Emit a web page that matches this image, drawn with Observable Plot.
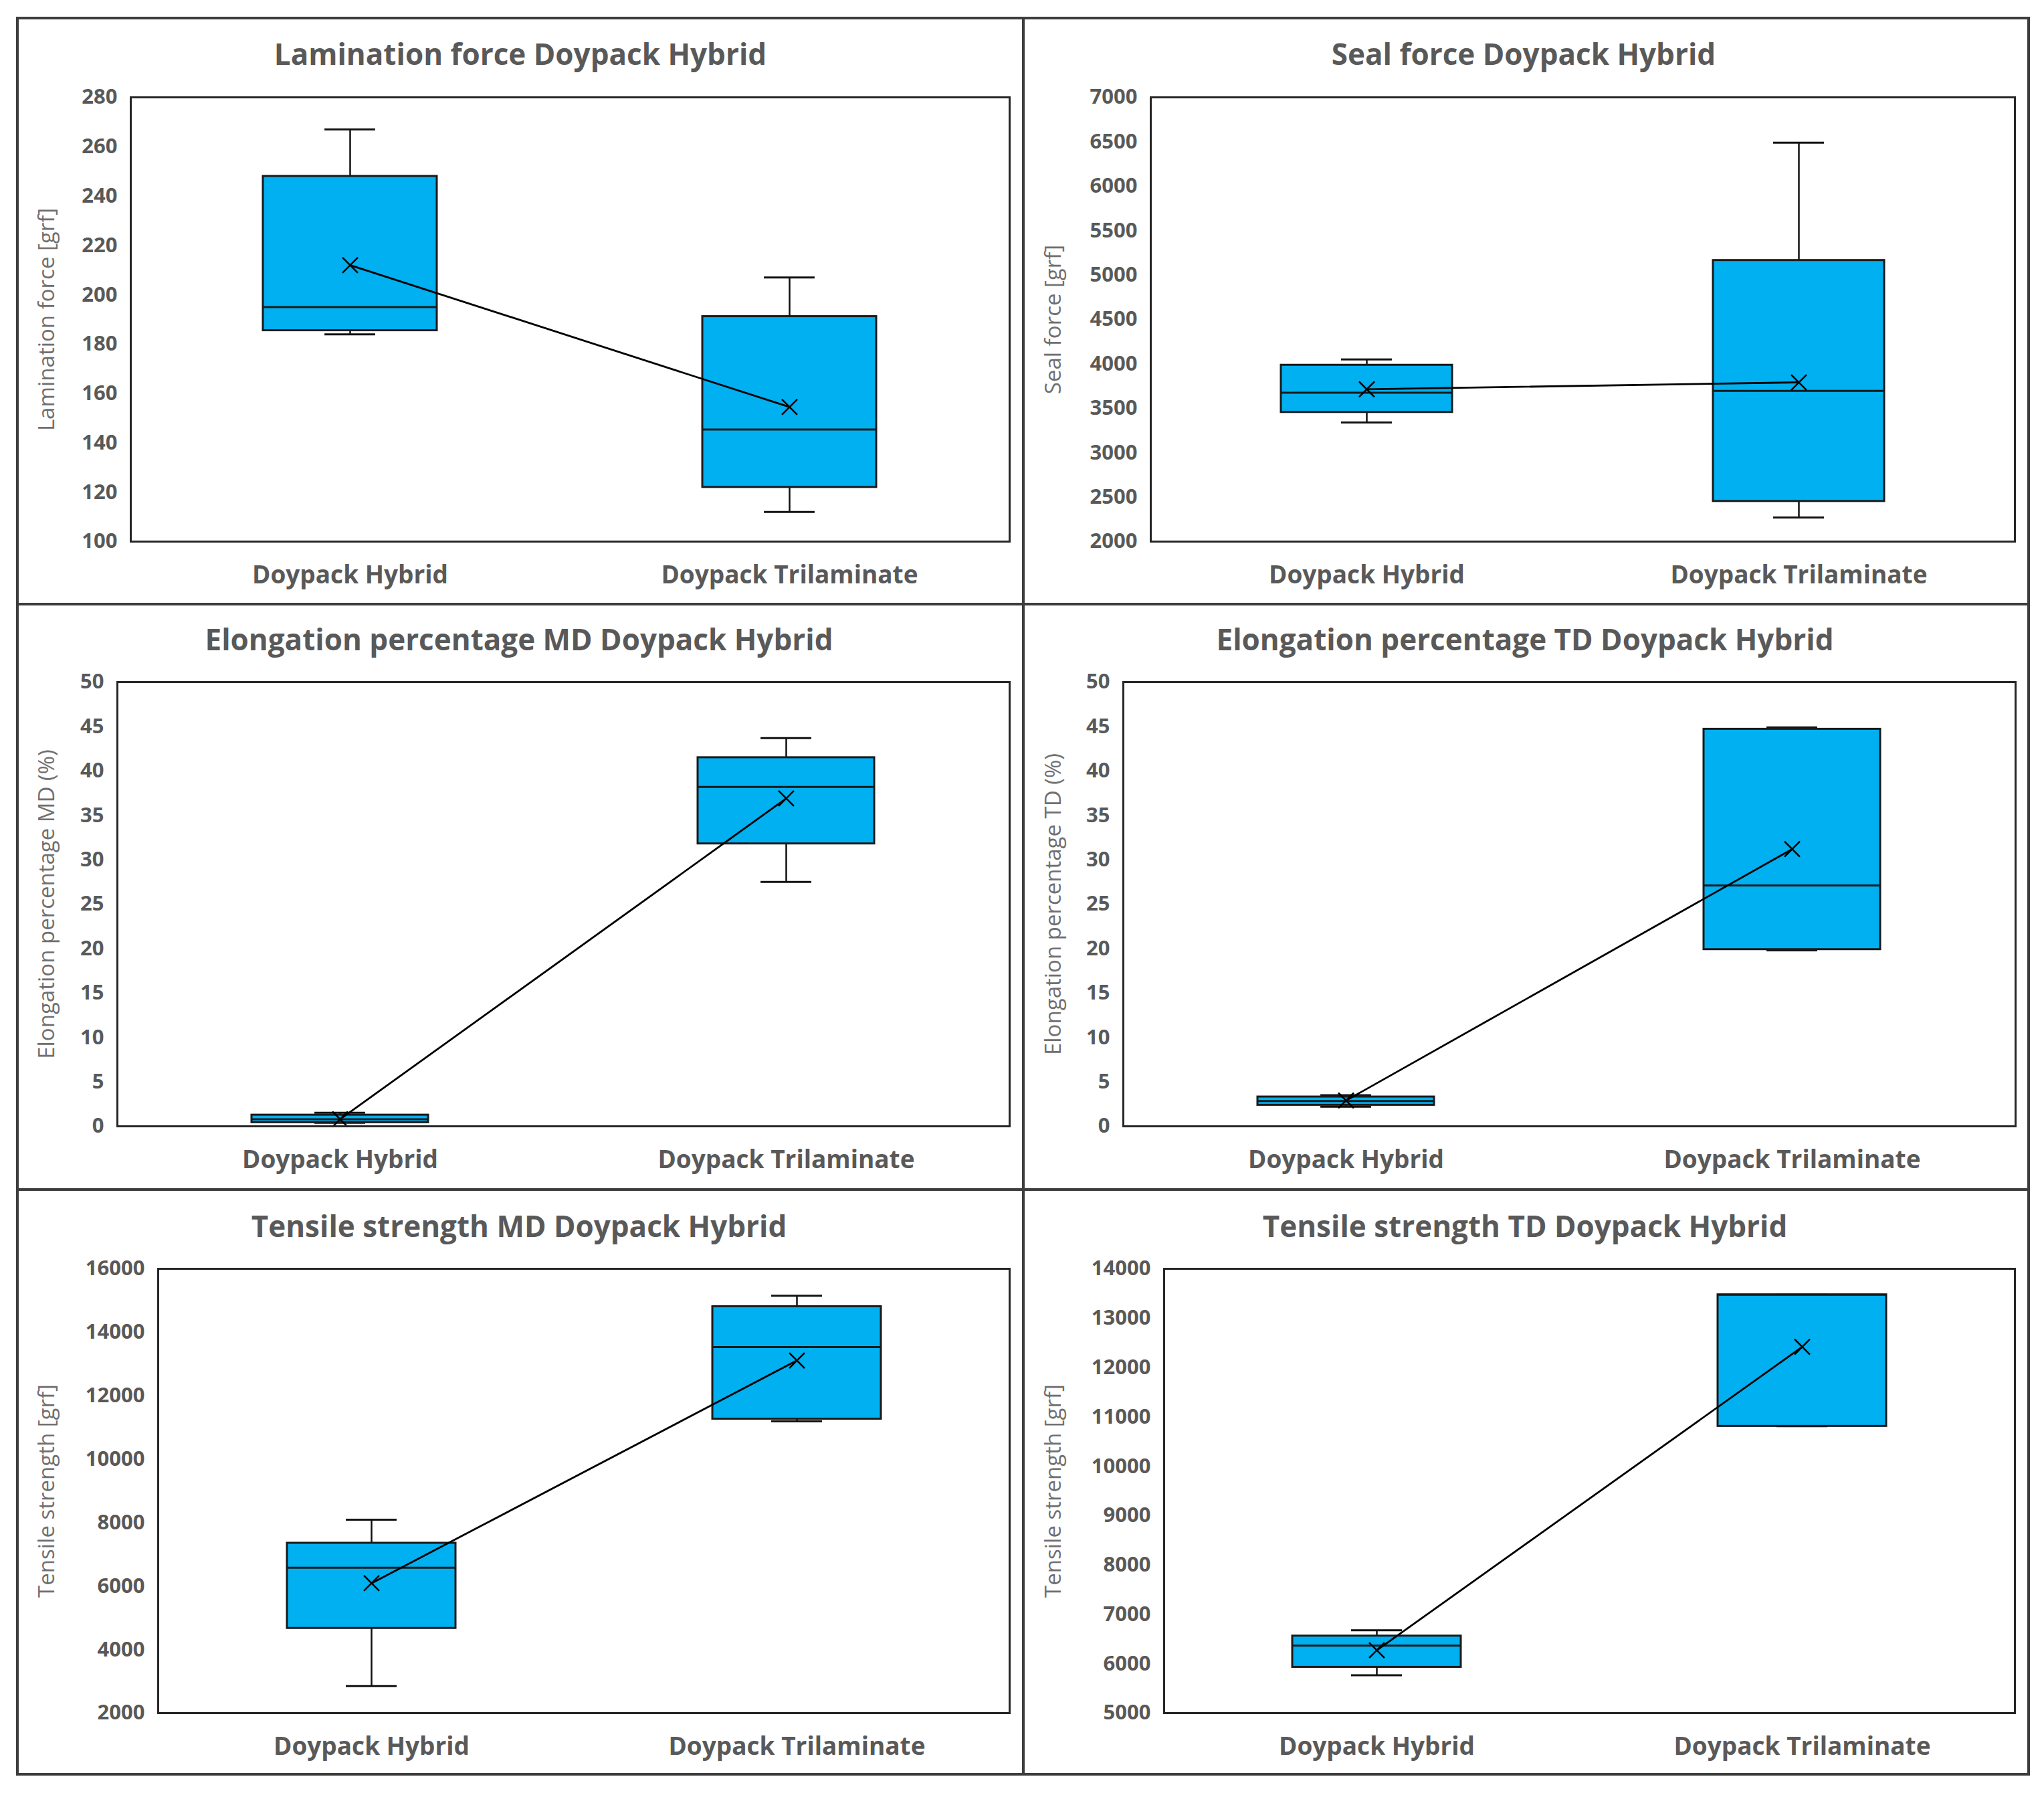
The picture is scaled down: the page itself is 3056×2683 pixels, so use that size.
<!DOCTYPE html>
<html><head><meta charset="utf-8">
<script src="https://cdn.jsdelivr.net/npm/d3@7"></script>
<script src="https://cdn.jsdelivr.net/npm/@observablehq/plot@0.6"></script>
<style>
html,body{margin:0;padding:0;background:#fff;}
#page{position:relative;width:3056px;height:2683px;background:#fff;overflow:hidden;font-family:"Open Sans",sans-serif;}
.outer{position:absolute;left:24px;top:25px;width:3011px;height:2629px;border:4px solid #3d3d3d;box-sizing:border-box;}
.vline{position:absolute;left:1528px;top:25px;width:4px;height:2629px;background:#3d3d3d;}
.hline{position:absolute;left:24px;width:3011px;height:4px;background:#3d3d3d;}
.title{position:absolute;transform:translate(-50%,-50%);white-space:nowrap;font-size:44px;font-weight:700;color:#595959;}
.panel{position:absolute;}
</style></head>
<body><div id="page">
<div class="outer"></div>
<div class="vline"></div>
<div class="hline" style="top:901px"></div>
<div class="hline" style="top:1776px"></div>
</div>
<script>
// ---------- data ----------
const categories = ["Doypack Hybrid", "Doypack Trilaminate"];
const titles = [
  "Lamination force Doypack Hybrid",
  "Seal force Doypack Hybrid",
  "Elongation percentage MD Doypack Hybrid",
  "Elongation percentage TD Doypack Hybrid",
  "Tensile strength MD Doypack Hybrid",
  "Tensile strength TD Doypack Hybrid"
];
const yLabels = [
  "Lamination force [grf]",
  "Seal force [grf]",
  "Elongation percentage MD (%)",
  "Elongation percentage TD (%)",
  "Tensile strength [grf]",
  "Tensile strength [grf]"
];
const laminationTicks = [100, 120, 140, 160, 180, 200, 220, 240, 260, 280];
const sealTicks = [2000, 2500, 3000, 3500, 4000, 4500, 5000, 5500, 6000, 6500, 7000];
const elongMDTicks = [0, 5, 10, 15, 20, 25, 30, 35, 40, 45, 50];
const elongTDTicks = [0, 5, 10, 15, 20, 25, 30, 35, 40, 45, 50];
const tensileMDTicks = [2000, 4000, 6000, 8000, 10000, 12000, 14000, 16000];
const tensileTDTicks = [5000, 6000, 7000, 8000, 9000, 10000, 11000, 12000, 13000, 14000];

// rows: [category, lower whisker, Q1, median, Q3, upper whisker, mean]
const laminationStats = [
  ["Doypack Hybrid", 184, 185.5, 195, 248, 267, 212],
  ["Doypack Trilaminate", 112, 122, 145.4, 191.2, 207, 154.5]
];
const sealStats = [
  ["Doypack Hybrid", 3340, 3455, 3675, 3986, 4050, 3714],
  ["Doypack Trilaminate", 2272, 2453, 3697, 5165, 6490, 3792]
];
const elongMDStats = [
  ["Doypack Hybrid", 0.4, 0.42, 0.8, 1.27, 1.53, 0.8],
  ["Doypack Trilaminate", 27.5, 31.8, 38.2, 41.5, 43.7, 36.9]
];
const elongTDStats = [
  ["Doypack Hybrid", 2.21, 2.38, 2.85, 3.31, 3.51, 2.9],
  ["Doypack Trilaminate", 19.8, 19.9, 27.1, 44.7, 44.9, 31.2]
];
const tensileMDStats = [
  ["Doypack Hybrid", 2850, 4672, 6578, 7355, 8096, 6092],
  ["Doypack Trilaminate", 11192, 11265, 13535, 14810, 15150, 13110]
];
const tensileTDStats = [
  ["Doypack Hybrid", 5765, 5929, 6366, 6561, 6678, 6272],
  ["Doypack Trilaminate", 10810, 10810, 13475, 13475, 13475, 12418]
];

// ---------- layout ----------
const panels = [
  {stats: laminationStats, ticks: laminationTicks, L:195, R:1509, T:145, B:809, cell:26, tx:778, ty:80, lx:70},
  {stats: sealStats, ticks: sealTicks, L:1720, R:3012, T:145, B:809, cell:1530, tx:2278, ty:80, lx:1575},
  {stats: elongMDStats, ticks: elongMDTicks, L:175, R:1509, T:1019, B:1683, cell:26, tx:776, ty:955, lx:70},
  {stats: elongTDStats, ticks: elongTDTicks, L:1679, R:3013, T:1019, B:1683, cell:1530, tx:2280, ty:955, lx:1575},
  {stats: tensileMDStats, ticks: tensileMDTicks, L:236, R:1509, T:1896, B:2560, cell:26, tx:776, ty:1832, lx:70},
  {stats: tensileTDStats, ticks: tensileTDTicks, L:1740, R:3012, T:1896, B:2560, cell:1530, tx:2280, ty:1832, lx:1575}
];

const page = document.getElementById("page");
panels.forEach((p, i) => {
  const t = document.createElement("div");
  t.className = "title";
  t.style.left = p.tx + "px";
  t.style.top = p.ty + "px";
  t.textContent = titles[i];
  page.appendChild(t);

  const rows = p.stats.map(r => ({cat: r[0], lo: r[1], q1: r[2], med: r[3], q3: r[4], hi: r[5], mean: r[6]}));
  const svgLeft = p.cell + 8;
  const svgTop = p.T - 40;
  const width = p.R + 12 - svgLeft;
  const height = p.B + 90 - svgTop;
  const bw = (p.R - p.L) * 0.198;
  const capInset = (bw - 76) / 2;
  const chart = Plot.plot({
    width, height,
    marginLeft: p.L - svgLeft, marginRight: 12, marginTop: 40, marginBottom: 90,
    x: {domain: categories, paddingInner: 0.604, paddingOuter: 0.302, axis: null},
    y: {domain: [p.ticks[0], p.ticks[p.ticks.length - 1]], axis: null},
    style: {fontFamily: "'Open Sans', sans-serif", fontSize: "31px", fontWeight: 700, color: "#595959", background: "transparent", overflow: "visible"},
    marks: [
      Plot.axisY({ticks: p.ticks, tickSize: 0, tickPadding: 20, tickFormat: d => String(d), fontSize: 31, fontWeight: 700, label: null}),
      Plot.axisX({tickSize: 0, tickPadding: 36, fontSize: 37, fontWeight: 700, label: null}),
      Plot.ruleX(rows, {x: "cat", y1: "lo", y2: "hi", stroke: "#111", strokeWidth: 2.5}),
      Plot.tickY(rows, {x: "cat", y: "lo", stroke: "#111", strokeWidth: 3, insetLeft: capInset, insetRight: capInset}),
      Plot.tickY(rows, {x: "cat", y: "hi", stroke: "#111", strokeWidth: 3, insetLeft: capInset, insetRight: capInset}),
      Plot.barY(rows, {x: "cat", y1: "q1", y2: "q3", fill: "#00B0F0", stroke: "#1a1a1a", strokeWidth: 3}),
      Plot.tickY(rows, {x: "cat", y: "med", stroke: "#1a1a1a", strokeWidth: 3}),
      Plot.line(rows, {x: "cat", y: "mean", stroke: "#000", strokeWidth: 2.8}),
      Plot.dot(rows, {x: "cat", y: "mean", symbol: "times", r: 10.5, stroke: "#000", strokeWidth: 2.5}),
      Plot.frame({stroke: "#262626", strokeWidth: 3}),
      Plot.text([yLabels[i]], {text: d => d, frameAnchor: "left", textAnchor: "middle", lineAnchor: "middle", dx: p.lx - p.L, rotate: -90, fontSize: 33, fontWeight: 400, fill: "#707070"})
    ]
  });
  const holder = document.createElement("div");
  holder.className = "panel";
  holder.style.left = svgLeft + "px";
  holder.style.top = svgTop + "px";
  holder.appendChild(chart);
  page.appendChild(holder);
});
</script>
</body></html>
